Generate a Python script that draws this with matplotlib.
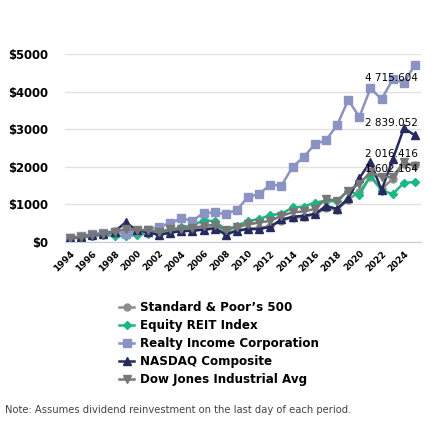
import numpy as np
import matplotlib
matplotlib.use("Agg")
import matplotlib.pyplot as plt

# Growth of $100, year-end values
years = list(range(1994, 2026))
sp500 = [100, 140, 170, 230, 290, 330, 300, 270, 210, 270, 300, 320, 370, 390, 240, 310,
         360, 370, 430, 570, 650, 660, 740, 900, 860, 1130, 1340, 1720, 1400, 1690, 2080, 2050]
reit = [100, 120, 160, 190, 160, 160, 190, 220, 235, 310, 400, 430, 585, 550, 330, 430,
        560, 610, 720, 750, 920, 940, 1050, 1100, 1080, 1370, 1240, 1780, 1370, 1280, 1570, 1602.164]
realty = [100, 162, 207, 252, 280, 205, 297, 315, 410, 500, 630, 570, 770, 790, 740, 860,
          1200, 1280, 1530, 1500, 2000, 2265, 2600, 2710, 3110, 3780, 3330, 4090, 3800, 4330, 4240, 4715.604]
nasdaq = [100, 140, 175, 210, 280, 525, 310, 260, 185, 250, 290, 300, 330, 360, 200, 300,
          345, 345, 405, 600, 670, 700, 745, 960, 880, 1160, 1700, 2140, 1380, 2200, 3030, 2839.052]
dow = [100, 140, 180, 220, 280, 340, 330, 310, 270, 340, 360, 370, 430, 460, 320, 400,
       470, 520, 565, 700, 790, 815, 880, 1150, 1100, 1370, 1550, 1860, 1730, 1730, 2130, 2016.416]

series = [
    ("Standard & Poor\u2019s 500", sp500, "#8e8e8e", "o", 5),
    ("Equity REIT Index", reit, "#19b884", "D", 4),
    ("Realty Income Corporation", realty, "#8b93c2", "s", 6),
    ("NASDAQ Composite", nasdaq, "#262a5e", "^", 6),
    ("Dow Jones Industrial Avg", dow, "#777777", "v", 6),
]

# end labels: (values, pixel offset of text centre from last point)
end_labels = [(realty, -13), (nasdaq, 12), (dow, 12), (reit, 13)]

fig = plt.figure(figsize=(4.34, 4.33), dpi=100)
ax = fig.add_axes([0.150, 0.441, 0.820, 0.434])

for name, vals, col, mk, ms in series:
    ax.plot(years, vals, color=col, marker=mk, markersize=ms, linewidth=1.8, label=name)

for vals, dy in end_labels:
    v = vals[-1]
    txt = f"{int(v):,}".replace(",", " ") + f"{v - int(v):.3f}"[1:]
    ax.annotate(txt, xy=(years[-1], v), xytext=(3, dy), textcoords="offset pixels",
                ha="right", va="center", fontsize=7.5, color="black")

ax.set_xlim(1993.55, 2025.54)
ax.set_ylim(0, 5000)
ax.set_yticks(range(0, 5001, 1000))
ax.set_yticklabels([f"${v}" for v in range(0, 5001, 1000)], fontsize=8.4, fontweight="heavy")
ax.set_xticks(range(1994, 2025, 2))
ax.set_xticklabels([str(y) for y in range(1994, 2025, 2)], rotation=45, ha="right",
                   rotation_mode="anchor", fontsize=6.5, fontweight="heavy")
ax.tick_params(length=0)
ax.tick_params(axis="y", pad=12)
ax.tick_params(axis="x", pad=5)
ax.grid(axis="y", color="#e2e2e2", linewidth=1)
ax.set_axisbelow(True)
for s in ["top", "right", "left"]:
    ax.spines[s].set_visible(False)
ax.spines["bottom"].set_color("#c5cbe0")

handles, labels = ax.get_legend_handles_labels()
leg = fig.legend(handles, labels, loc="upper left", bbox_to_anchor=(0.274, 0.305),
                 frameon=False, fontsize=8.6, labelspacing=0.42, handlelength=1.3,
                 handletextpad=0.45, borderpad=0, borderaxespad=0)
for t in leg.get_texts():
    t.set_fontweight("heavy")

fig.text(0.012, 0.046, "Note: Assumes dividend reinvestment on the last day of each period.",
         fontsize=7.2, color="#444444")

fig.savefig("out.png", dpi=100)
